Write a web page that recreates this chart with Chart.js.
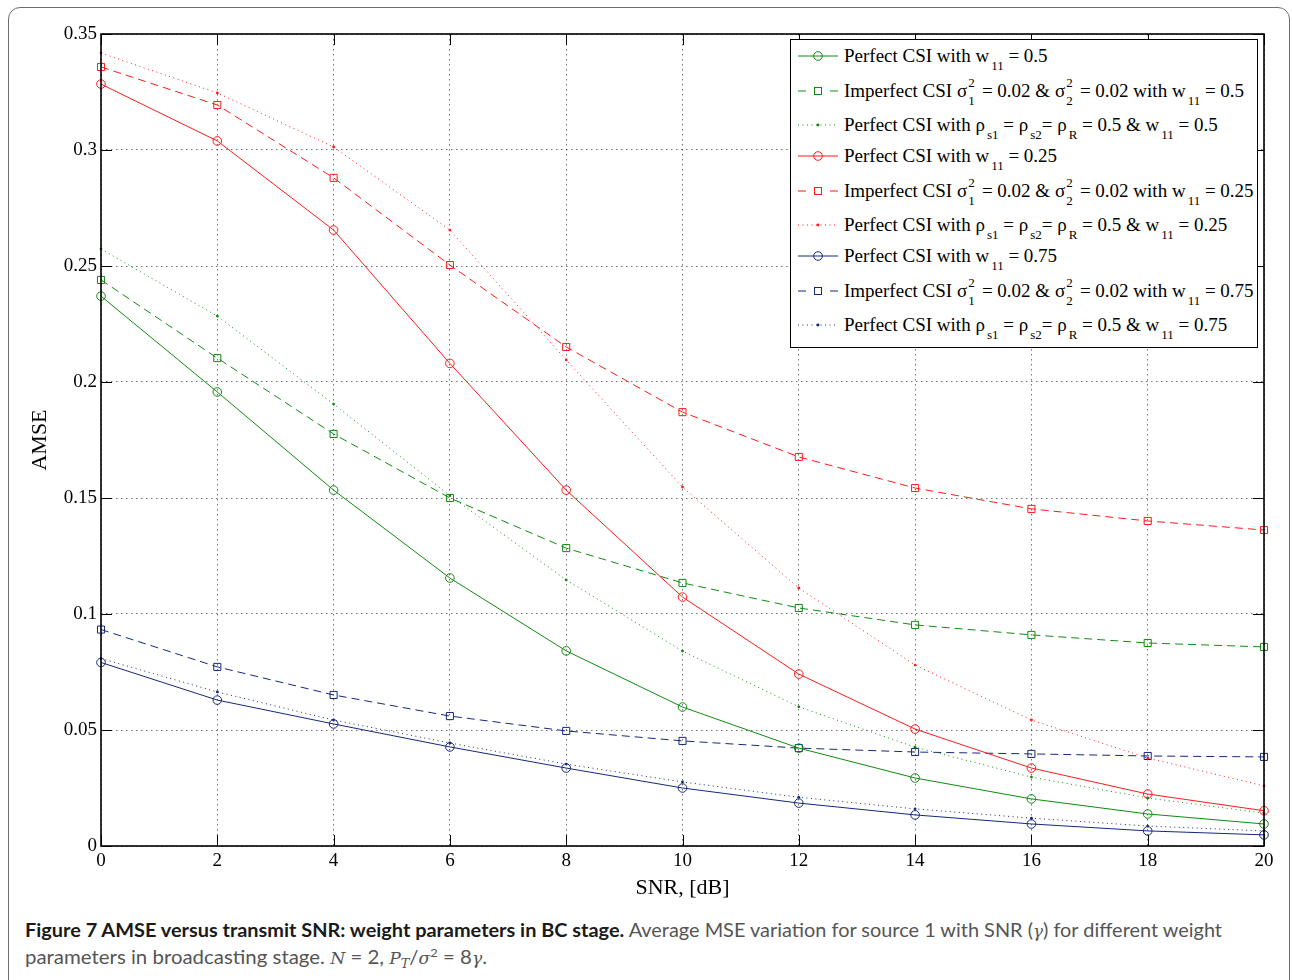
<!DOCTYPE html>
<html>
<head>
<meta charset="utf-8">
<script src="https://cdn.jsdelivr.net/npm/chart.js@4.4.1/dist/chart.umd.min.js"></script>
<style>
  body { margin: 0; background: #fff; width: 1292px; height: 980px; overflow: hidden; position: relative; font-family: 'Liberation Serif', serif; }
  #frame { position: absolute; left: 8px; top: 7px; width: 1282px; height: 1000px; border: 1.5px solid #6d6d6d; border-radius: 12px; box-sizing: border-box; }
  #c { position: absolute; left: 0; top: 0; }
  #legend { position: absolute; left: 790px; top: 39px; width: 468px; height: 309px; box-sizing: border-box; border: 1px solid #000; background: #fff; }
  .row { display: flex; align-items: center; height: 32px; }
  .row.s { height: 38px; }
  .row.r { height: 30px; }
  .row svg { margin-left: 7px; flex: none; }
  .row .t { margin-left: 4px; font-size: 19px; line-height: 19px; white-space: nowrap; color: #000; }
  .t sub { font-size: 13px; vertical-align: baseline; position: relative; top: 8px; margin-left: 2px; }
  .ss { position: relative; display: inline-block; width: 10px; height: 0; }
  .ss i { position: absolute; left: 1px; font-style: normal; font-size: 13px; line-height: 13px; }
  .ss .u { top: -21px; }
  .ss .d { top: -3px; }
  .cap { position: absolute; left: 25px; font-family: Lato, 'Open Sans', sans-serif; font-size: 19px; line-height: 27px; white-space: nowrap; color: #555; transform-origin: 0 0; }
  .cap b { color: #1a1a1a; }
  .cap i { font-family: 'DejaVu Serif', serif; font-size: 16px; }
  .cap sub, .cap sup { font-size: 12px; line-height: 0; }
</style>
</head>
<body>
<div id="frame"></div>
<canvas id="c" width="1292" height="905"></canvas>
<div id="legend"></div>
<div class="cap" id="cap1" style="top:916px"><b>Figure 7 AMSE versus transmit SNR: weight parameters in BC stage.</b> Average MSE variation for source 1 with SNR (<i>γ</i>) for different weight</div>
<div class="cap" id="cap2" style="top:943px">parameters in broadcasting stage. <i>N</i> = 2, <i>P<sub>T</sub></i>/<i>σ</i><sup>2</sup> = 8<i>γ</i>.</div>
<script>
// axes
const snr = [0, 2, 4, 6, 8, 10, 12, 14, 16, 18, 20];
const xTicks = [0, 2, 4, 6, 8, 10, 12, 14, 16, 18, 20];
const xTickLabels = ['0', '2', '4', '6', '8', '10', '12', '14', '16', '18', '20'];
const yTicks = [0, 0.05, 0.1, 0.15, 0.2, 0.25, 0.3, 0.35];
const yTickLabels = ['0', '0.05', '0.1', '0.15', '0.2', '0.25', '0.3', '0.35'];

// w11 = 0.5 (vert)
const perfect05   = [0.2370, 0.1957, 0.1534, 0.1155, 0.0841, 0.0599, 0.0422, 0.0293, 0.0203, 0.0138, 0.0095];
const imperfect05 = [0.2440, 0.2103, 0.1776, 0.1500, 0.1284, 0.1134, 0.1026, 0.0953, 0.0910, 0.0875, 0.0858];
const corr05      = [0.2573, 0.2284, 0.1905, 0.1510, 0.1147, 0.0840, 0.0600, 0.0426, 0.0297, 0.0207, 0.0142];
// w11 = 0.25 (rouge)
const perfect025   = [0.3284, 0.3039, 0.2655, 0.2080, 0.1534, 0.1073, 0.0741, 0.0504, 0.0336, 0.0224, 0.0152];
const imperfect025 = [0.3358, 0.3194, 0.2880, 0.2504, 0.2151, 0.1870, 0.1677, 0.1543, 0.1453, 0.1401, 0.1362];
const corr025      = [0.3418, 0.3246, 0.3013, 0.2655, 0.2095, 0.1547, 0.1112, 0.0780, 0.0543, 0.0379, 0.0259];
// w11 = 0.75 (bleu)
const perfect075   = [0.0791, 0.0629, 0.0526, 0.0427, 0.0336, 0.0250, 0.0185, 0.0134, 0.0095, 0.0065, 0.0048];
const imperfect075 = [0.0933, 0.0772, 0.0651, 0.0560, 0.0496, 0.0453, 0.0422, 0.0405, 0.0397, 0.0388, 0.0384];
const corr075      = [0.0808, 0.0664, 0.0543, 0.0444, 0.0353, 0.0276, 0.0210, 0.0160, 0.0120, 0.0086, 0.0065];

const GREEN = '#118a11';
const RED = '#ff1a1a';
const BLUE = '#14287a';

const sigma = (n) => 'σ<span class="ss"><i class="u">2</i><i class="d">' + n + '</i></span>';
const series = [
  { data: perfect05, color: GREEN, kind: 'solid', row: '', text: 'Perfect CSI with w<sub>11</sub> = 0.5' },
  { data: imperfect05, color: GREEN, kind: 'dash', row: 's', text: 'Imperfect CSI ' + sigma(1) + ' = 0.02 &amp; ' + sigma(2) + ' = 0.02 with w<sub>11</sub> = 0.5' },
  { data: corr05, color: GREEN, kind: 'dot', row: 'r', text: 'Perfect CSI with ρ<sub>s1</sub> = ρ<sub>s2</sub>= ρ<sub>R</sub> = 0.5 &amp; w<sub>11</sub> = 0.5' },
  { data: perfect025, color: RED, kind: 'solid', row: '', text: 'Perfect CSI with w<sub>11</sub> = 0.25' },
  { data: imperfect025, color: RED, kind: 'dash', row: 's', text: 'Imperfect CSI ' + sigma(1) + ' = 0.02 &amp; ' + sigma(2) + ' = 0.02 with w<sub>11</sub> = 0.25' },
  { data: corr025, color: RED, kind: 'dot', row: 'r', text: 'Perfect CSI with ρ<sub>s1</sub> = ρ<sub>s2</sub>= ρ<sub>R</sub> = 0.5 &amp; w<sub>11</sub> = 0.25' },
  { data: perfect075, color: BLUE, kind: 'solid', row: '', text: 'Perfect CSI with w<sub>11</sub> = 0.75' },
  { data: imperfect075, color: BLUE, kind: 'dash', row: 's', text: 'Imperfect CSI ' + sigma(1) + ' = 0.02 &amp; ' + sigma(2) + ' = 0.02 with w<sub>11</sub> = 0.75' },
  { data: corr075, color: BLUE, kind: 'dot', row: 'r', text: 'Perfect CSI with ρ<sub>s1</sub> = ρ<sub>s2</sub>= ρ<sub>R</sub> = 0.5 &amp; w<sub>11</sub> = 0.75' }
];

function makeDataset(s) {
  const base = {
    data: snr.map((x, i) => ({ x: x, y: s.data[i] })),
    borderColor: s.color,
    borderWidth: 1,
    pointBorderColor: s.color,
    pointBorderWidth: 1,
    tension: 0,
    fill: false,
    clip: false
  };
  if (s.kind === 'solid') {
    return Object.assign(base, { pointStyle: 'circle', pointRadius: 4.3, pointBackgroundColor: 'rgba(0,0,0,0)' });
  } else if (s.kind === 'dash') {
    return Object.assign(base, { borderDash: [8, 5], pointStyle: 'rect', pointRadius: 5, pointBackgroundColor: 'rgba(0,0,0,0)' });
  } else {
    return Object.assign(base, { borderDash: [1, 3.5], pointStyle: 'circle', pointRadius: 1.4, pointBorderWidth: 0, pointBackgroundColor: s.color });
  }
}

// cadre + ticks vers l'interieur (style matlab)
const boxPlugin = {
  id: 'box',
  afterDraw(chart) {
    const { ctx, chartArea: a, scales: { x, y } } = chart;
    ctx.save();
    ctx.strokeStyle = '#000';
    ctx.lineWidth = 1;
    ctx.beginPath();
    x.ticks.forEach(t => {
      const px = Math.round(x.getPixelForValue(t.value)) + 0.5;
      ctx.moveTo(px, a.bottom); ctx.lineTo(px, a.bottom - 11);
      ctx.moveTo(px, a.top); ctx.lineTo(px, a.top + 11);
    });
    y.ticks.forEach(t => {
      const py = Math.round(y.getPixelForValue(t.value)) + 0.5;
      ctx.moveTo(a.left, py); ctx.lineTo(a.left + 11, py);
      ctx.moveTo(a.right, py); ctx.lineTo(a.right - 11, py);
    });
    ctx.stroke();
    ctx.lineWidth = 1.6;
    ctx.strokeRect(a.left, a.top, a.right - a.left, a.bottom - a.top);
    ctx.restore();
  }
};

Chart.defaults.font.family = "'Liberation Serif', serif";
Chart.defaults.color = '#000';

const chart = new Chart(document.getElementById('c'), {
  type: 'line',
  data: { datasets: series.map(makeDataset) },
  options: {
    responsive: false,
    animation: false,
    devicePixelRatio: 1,
    layout: { padding: { left: 0, right: 28, top: 34, bottom: 0 } },
    plugins: { legend: { display: false }, tooltip: { enabled: false } },
    scales: {
      x: {
        type: 'linear', min: 0, max: 20,
        afterBuildTicks: s => { s.ticks = xTicks.map(v => ({ value: v })); },
        afterFit: s => { s.height = 59; },
        ticks: { font: { size: 19 }, color: '#000', padding: 4, maxRotation: 0, autoSkip: false,
                 callback: (v, i) => xTickLabels[i] },
        grid: { color: 'rgba(0,0,0,0.55)', lineWidth: 1, drawTicks: false },
        border: { display: false, dash: [1.5, 3.5] },
        title: { display: true, text: 'SNR, [dB]', font: { size: 22 }, color: '#000', padding: { top: 0, bottom: 4 } }
      },
      y: {
        type: 'linear', min: 0, max: 0.35,
        afterBuildTicks: s => { s.ticks = yTicks.map(v => ({ value: v })); },
        afterFit: s => { s.width = 101; },
        ticks: { font: { size: 19 }, color: '#000', padding: 4, autoSkip: false,
                 callback: (v, i) => yTickLabels[i] },
        grid: { color: 'rgba(0,0,0,0.55)', lineWidth: 1, drawTicks: false },
        border: { display: false, dash: [1.5, 3.5] },
        title: { display: true, text: 'AMSE', font: { size: 22 }, color: '#000', padding: { top: 27, bottom: 0 } }
      }
    }
  },
  plugins: [boxPlugin]
});

// legende html (indices, exposants)
function sampleSvg(s) {
  let svg = '<svg width="42" height="14" viewBox="0 0 42 14">';
  if (s.kind === 'solid') {
    svg += '<line x1="0" y1="7" x2="40" y2="7" stroke="' + s.color + '" stroke-width="1"/>';
    svg += '<circle cx="20" cy="7" r="4.3" fill="none" stroke="' + s.color + '" stroke-width="1"/>';
  } else if (s.kind === 'dash') {
    svg += '<line x1="0" y1="7" x2="8" y2="7" stroke="' + s.color + '" stroke-width="1"/>';
    svg += '<line x1="32" y1="7" x2="40" y2="7" stroke="' + s.color + '" stroke-width="1"/>';
    svg += '<rect x="16.5" y="3.5" width="7" height="7" fill="none" stroke="' + s.color + '" stroke-width="1"/>';
  } else {
    svg += '<line x1="0" y1="7" x2="40" y2="7" stroke="' + s.color + '" stroke-width="1" stroke-dasharray="1,3.5"/>';
    svg += '<circle cx="20" cy="7" r="1.4" fill="' + s.color + '"/>';
  }
  return svg + '</svg>';
}
const legend = document.getElementById('legend');
series.forEach(s => {
  const row = document.createElement('div');
  row.className = 'row ' + s.row;
  row.innerHTML = sampleSvg(s) + '<span class="t">' + s.text + '</span>';
  legend.appendChild(row);
});

// ajuster la largeur de la legende
function fitCaption() {
  const targets = { cap1: 1197, cap2: 462 };
  Object.keys(targets).forEach(id => {
    const el = document.getElementById(id);
    el.style.transform = 'none';
    const w = el.getBoundingClientRect().width;
    el.style.transform = 'scaleX(' + (targets[id] / w) + ')';
  });
}
fitCaption();
if (document.fonts) document.fonts.ready.then(fitCaption);
</script>
</body>
</html>
